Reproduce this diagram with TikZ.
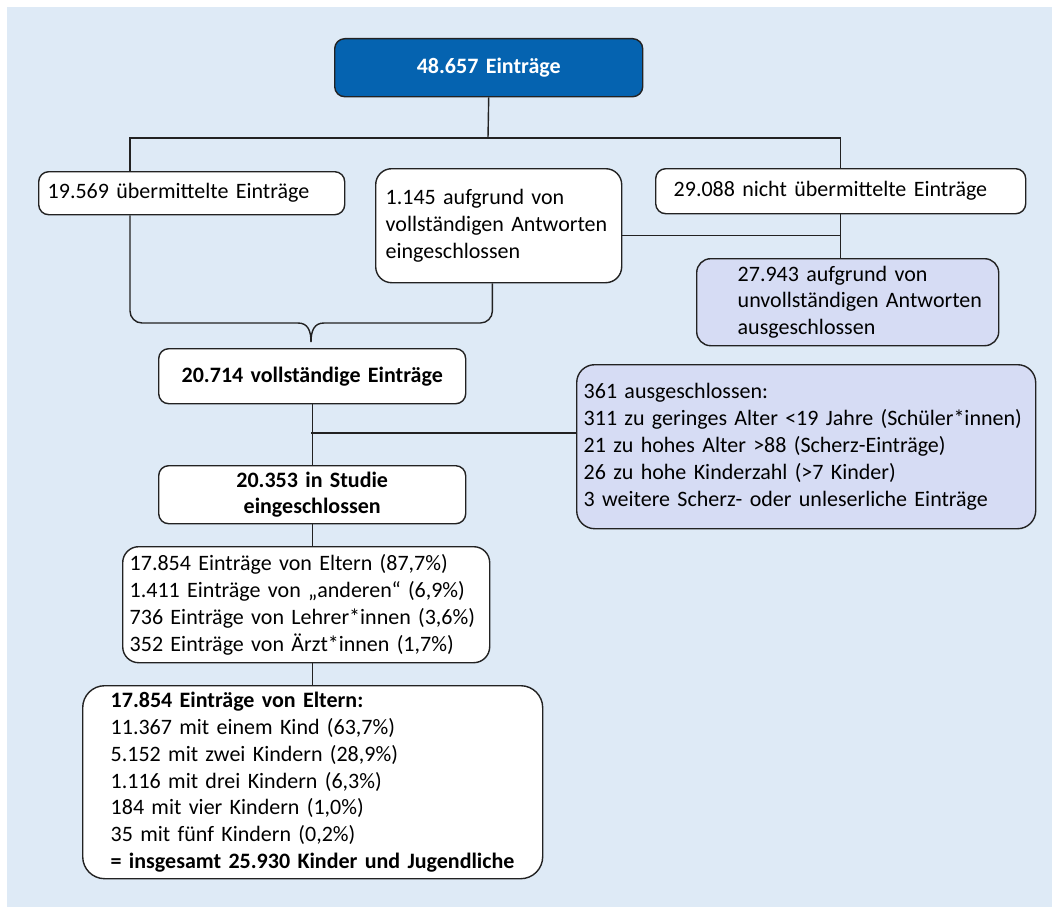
\documentclass[tikz,border=0pt]{standalone}
\usepackage{fontspec}
\setmainfont{Carlito}
\definecolor{bgblue}{RGB}{222,234,246}
\definecolor{topblue}{RGB}{5,99,176}
\definecolor{lavender}{RGB}{214,220,244}
\definecolor{edge}{RGB}{34,34,34}
\newcommand\indline{\hspace*{27pt}}
\tikzset{
  box/.style={draw=edge, line width=1.4pt, rounded corners=10pt, fill=white,
    anchor=north west, align=left, inner ysep=0pt,
    font=\fontsize{22}{26.8}\selectfont},
  outbox/.style={box, fill=lavender},
  headbox/.style={box, align=center, font=\fontsize{22}{26.8}\selectfont\bfseries},
  link/.style={draw=edge, line width=1.4pt}
}
\begin{document}
\begin{tikzpicture}[x=1pt, y=-1pt]
  \useasboundingbox (0,0) rectangle (1052,907);
  \fill[bgblue] (7,7) rectangle (1052,907);

  % boxes
  \node[headbox, fill=topblue, text=white, text width=300pt, inner xsep=4pt, minimum height=58pt] (total) at (334,38) {48.657 Einträge};
  \node[box, text width=288pt, inner xsep=9pt, minimum height=43pt] (sent) at (38,171) {19.569 übermittelte Einträge};
  \node[box, rounded corners=16pt, text width=226pt, inner xsep=10pt, minimum height=114pt] (compl) at (375,168) {1.145 aufgrund von\\vollständigen Antworten\\eingeschlossen};
  \node[box, text width=334pt, inner xsep=18pt, minimum height=45pt] (notsent) at (655,168) {29.088 nicht übermittelte Einträge};
  \node[outbox, rounded corners=14pt, text width=274pt, inner xsep=14pt, minimum height=87pt] (incompl) at (696,258) {\indline 27.943 aufgrund von\\\indline unvollständigen Antworten\\\indline ausgeschlossen};
  \node[headbox, text width=299pt, inner xsep=4pt, minimum height=55pt] (full) at (158,348) {20.714 vollständige Einträge};
  \node[outbox, rounded corners=18pt, text width=445pt, inner xsep=7pt, minimum height=164pt] (excl) at (576,364) {361 ausgeschlossen:\\311 zu geringes Alter <19 Jahre (Schüler*innen)\\21 zu hohes Alter >88 (Scherz-Einträge)\\26 zu hohe Kinderzahl (>7 Kinder)\\3 weitere Scherz- oder unleserliche Einträge};
  \node[headbox, text width=299pt, inner xsep=4pt, minimum height=58pt] (study) at (158,465) {20.353 in Studie\\eingeschlossen};
  \node[box, rounded corners=16pt, text width=353pt, inner xsep=7pt, minimum height=116pt] (sources) at (122,546) {17.854 Einträge von Eltern (87,7\%)\\1.411 Einträge von „anderen“ (6,9\%)\\736 Einträge von Lehrer*innen (3,6\%)\\352 Einträge von Ärzt*innen (1,7\%)};
  \node[box, rounded corners=22pt, text width=404pt, inner xsep=28pt, minimum height=193pt] (parents) at (82,685) {\textbf{17.854 Einträge von Eltern:}\\11.367 mit einem Kind (63,7\%)\\5.152 mit zwei Kindern (28,9\%)\\1.116 mit drei Kindern (6,3\%)\\184 mit vier Kindern (1,0\%)\\35 mit fünf Kindern (0,2\%)\\\textbf{= insgesamt 25.930 Kinder und Jugendliche}};

  % connectors
  \coordinate (split) at (488,138);
  \coordinate (tip) at (311,342);
  \coordinate (braceL) at (298,323);
  \coordinate (braceR) at (324,323);
  \coordinate (fork) at (311,433);
  \draw[link] (total.south) -- (split);
  \draw[link] ([xshift=92pt]sent.north west) |- (split) -| (notsent.north);
  \draw[link] (notsent.south) -- (notsent.south |- incompl.north);
  \draw[link] ([yshift=-10pt]compl.east) -- ([yshift=-10pt]compl.east -| notsent.south);
  \draw[link, rounded corners=12pt] ([xshift=92pt]sent.south west) |- (braceL);
  \draw[link] (braceL) .. controls (308,323) and (311,331) .. (tip);
  \draw[link, rounded corners=12pt] ([xshift=-130pt]compl.south east) |- (braceR);
  \draw[link] (braceR) .. controls (314,323) and (311,331) .. (tip);
  \draw[link] (full.south) -- (study.north);
  \draw[link] (fork) -- (fork -| excl.west);
  \draw[link] (study.south) -- (study.south |- sources.north);
  \draw[link] (parents.north |- sources.south) -- (parents.north);
\end{tikzpicture}
\end{document}
